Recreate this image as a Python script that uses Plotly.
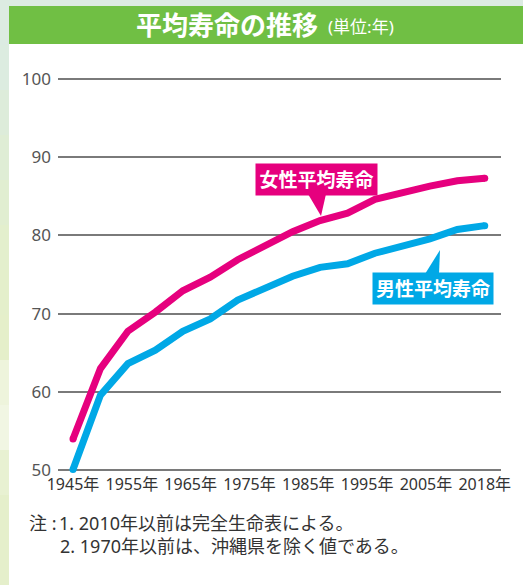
import plotly.graph_objects as go

# ---- data ----
years = ["1947", "1950", "1955", "1960", "1965", "1970", "1975", "1980",
         "1985", "1990", "1995", "2000", "2005", "2010", "2015", "2018"]
female = [53.96, 62.97, 67.75, 70.19, 72.92, 74.66, 76.89, 78.76,
          80.48, 81.90, 82.85, 84.60, 85.52, 86.30, 86.99, 87.32]
male = [50.06, 59.57, 63.60, 65.32, 67.74, 69.31, 71.73, 73.35,
        74.78, 75.92, 76.38, 77.72, 78.56, 79.55, 80.75, 81.25]
tick_labels = ["1945年", "1955年", "1965年", "1975年", "1985年", "1995年", "2005年", "2018年"]
y_ticks = [50, 60, 70, 80, 90, 100]
title = "平均寿命の推移"
unit = "(単位:年)"
label_f = "女性平均寿命"
label_m = "男性平均寿命"
note_head = "注 :"
notes = ["1. 2010年以前は完全生命表による。", "2. 1970年以前は、沖縄県を除く値である。"]

# ---- layout geometry (pixels) ----
W, H = 523, 585
L, R, T, B = 58, 501, 74, 473
n = len(years)
x0px, step = 73, 27.45
ypx50, ypu = 470, 7.82

xmin = -(x0px - L) / step
xmax = (R - x0px) / step
ymin = 50 - (B - ypx50) / ypu
ymax = 50 + (ypx50 - T) / ypu

def xp(px):
    return (px - L) / (R - L)

def yp(py):
    return (B - py) / (B - T)

FONT = "Noto Sans, Noto Sans CJK JP"
PINK = "#e6007e"
CYAN = "#00a8e6"
xs = list(range(n))

fig = go.Figure()
fig.add_trace(go.Scatter(x=xs, y=female, mode="lines",
                         line=dict(color=PINK, width=7), hoverinfo="skip"))
fig.add_trace(go.Scatter(x=xs, y=male, mode="lines",
                         line=dict(color=CYAN, width=7), hoverinfo="skip"))
# round end caps
fig.add_trace(go.Scatter(x=[xs[0], xs[-1]], y=[female[0], female[-1]], mode="markers",
                         marker=dict(color=PINK, size=7), hoverinfo="skip", cliponaxis=False))
fig.add_trace(go.Scatter(x=[xs[0], xs[-1]], y=[male[0], male[-1]], mode="markers",
                         marker=dict(color=CYAN, size=7), hoverinfo="skip", cliponaxis=False))

shapes = []
# left gradient strip
strip_cols = ["#dcebe2", "#dcece0", "#ddecda", "#dfedd5", "#e1eed1", "#e3efcd",
              "#e4efcb", "#e5efca", "#eef4dc", "#f1f6e3", "#e8f1d2", "#e5efcb", "#e5efcb"]
seg = H / len(strip_cols)
for i, c in enumerate(strip_cols):
    shapes.append(dict(type="rect", xref="paper", yref="paper",
                       x0=xp(0), x1=xp(9), y0=yp(i * seg), y1=yp((i + 1) * seg + 1),
                       fillcolor=c, line=dict(width=0), layer="below"))
# top strip
shapes.append(dict(type="rect", xref="paper", yref="paper",
                   x0=xp(0), x1=xp(W), y0=yp(0), y1=yp(6),
                   fillcolor="#dcebe2", line=dict(width=0), layer="below"))
# title banner
shapes.append(dict(type="rect", xref="paper", yref="paper",
                   x0=xp(9), x1=xp(W), y0=yp(6), y1=yp(44),
                   fillcolor="#70bf44", line=dict(width=0), layer="below"))
# bottom axis line
shapes.append(dict(type="line", xref="paper", yref="y", x0=0, x1=1, y0=50, y1=50,
                   line=dict(color="#333333", width=1.5), layer="below"))
# callout pointers
shapes.append(dict(type="path", xref="paper", yref="paper",
                   path=f"M {xp(308)},{yp(194)} L {xp(326)},{yp(194)} L {xp(321)},{yp(216)} Z",
                   fillcolor=PINK, line=dict(width=0)))
shapes.append(dict(type="path", xref="paper", yref="paper",
                   path=f"M {xp(425)},{yp(274)} L {xp(439)},{yp(274)} L {xp(440)},{yp(250)} Z",
                   fillcolor=CYAN, line=dict(width=0)))

annotations = [
    dict(text=title, xref="paper", yref="paper", x=xp(134), y=yp(25),
         xanchor="left", yanchor="middle", showarrow=False,
         font=dict(family=FONT, size=26, color="white", weight="bold")),
    dict(text=unit, xref="paper", yref="paper", x=xp(326), y=yp(26),
         xanchor="left", yanchor="middle", showarrow=False,
         font=dict(family=FONT, size=17, color="white")),
    dict(text=label_f, xref="paper", yref="paper", x=xp(316.5), y=yp(179.5),
         xanchor="center", yanchor="middle", showarrow=False,
         width=121, height=31, borderpad=0, bgcolor=PINK,
         font=dict(family=FONT, size=19, color="white", weight="bold")),
    dict(text=label_m, xref="paper", yref="paper", x=xp(432.5), y=yp(288),
         xanchor="center", yanchor="middle", showarrow=False,
         width=120, height=31, borderpad=0, bgcolor=CYAN,
         font=dict(family=FONT, size=19, color="white", weight="bold")),
    dict(text=note_head, xref="paper", yref="paper", x=xp(27), y=yp(523),
         xanchor="left", yanchor="middle", showarrow=False,
         font=dict(family=FONT, size=18, color="#333333")),
    dict(text=notes[0], xref="paper", yref="paper", x=xp(57), y=yp(523),
         xanchor="left", yanchor="middle", showarrow=False,
         font=dict(family=FONT, size=18, color="#333333")),
    dict(text=notes[1], xref="paper", yref="paper", x=xp(58), y=yp(546),
         xanchor="left", yanchor="middle", showarrow=False,
         font=dict(family=FONT, size=18, color="#333333")),
]

tick_pos = [i * (n - 1) / (len(tick_labels) - 1) for i in range(len(tick_labels))]

fig.update_layout(
    width=W, height=H, autosize=False,
    margin=dict(l=L, r=W - R, t=T, b=H - B, pad=0),
    paper_bgcolor="white", plot_bgcolor="rgba(0,0,0,0)",
    showlegend=False,
    shapes=shapes, annotations=annotations,
    xaxis=dict(range=[xmin, xmax], tickvals=tick_pos, ticktext=tick_labels,
               showgrid=False, zeroline=False, showline=False, ticks="",
               ticklabelstandoff=0,
               tickfont=dict(family=FONT, size=16, color="#333333"), fixedrange=True),
    yaxis=dict(range=[ymin, ymax], tickvals=y_ticks, showgrid=True,
               gridcolor="#7a7a7a", gridwidth=1.5, zeroline=False, showline=False,
               ticks="", ticklabelstandoff=6,
               tickfont=dict(family=FONT, size=17, color="#555555"), fixedrange=True),
)

fig.write_html("out.html", config={"displayModeBar": False},
               post_script="document.body.style.margin='0';")
